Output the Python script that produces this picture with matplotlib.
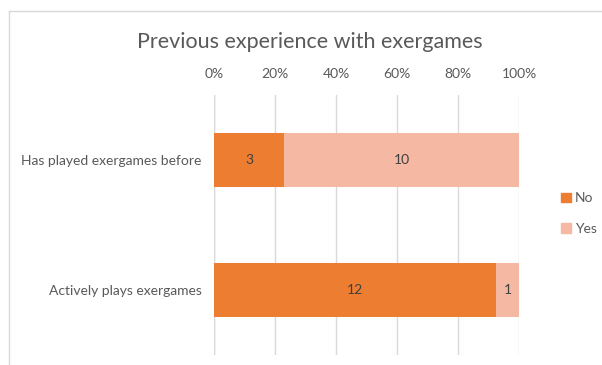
import numpy as np
import matplotlib.pyplot as plt
from matplotlib.patches import Patch

questions = ['Has played exergames before', 'Actively plays exergames']
no_counts = [3, 12]
yes_counts = [10, 1]
ticks = [0, 20, 40, 60, 80, 100]

no_color = '#ED7D31'
yes_color = '#F4B8A3'
text_color = '#595959'

plt.rcParams['font.family'] = ['Lato', 'DejaVu Sans']

no = np.array(no_counts, dtype=float)
yes = np.array(yes_counts, dtype=float)
total = no + yes
no_pct = no / total * 100
yes_pct = yes / total * 100

fig = plt.figure(figsize=(6.02, 3.65), dpi=100)
ax = fig.add_axes([0.3555, 0.027, 0.507, 0.713])

y = np.arange(len(questions))
ax.barh(y, no_pct, height=0.41, color=no_color, zorder=3)
ax.barh(y, yes_pct, left=no_pct, height=0.41, color=yes_color, zorder=3)

for i in range(len(questions)):
    ax.text(no_pct[i] / 2, y[i], str(no_counts[i]), ha='center', va='center',
            fontsize=10, color='#404040', zorder=4)
    ax.text(no_pct[i] + yes_pct[i] / 2, y[i], str(yes_counts[i]), ha='center',
            va='center', fontsize=10, color='#404040', zorder=4)

ax.set_xlim(0, 100)
ax.set_ylim(len(questions) - 0.5, -0.5)
ax.set_xticks(ticks)
ax.set_xticklabels([f'{t}%' for t in ticks])
ax.set_yticks(y)
ax.set_yticklabels(questions)
ax.xaxis.tick_top()
ax.tick_params(axis='x', length=0, pad=11, labelsize=10, labelcolor=text_color)
ax.tick_params(axis='y', length=0, pad=9, labelsize=10, labelcolor=text_color)
ax.grid(axis='x', color='#D9D9D9', linewidth=1, zorder=0)
ax.axvline(0, color='#D9D9D9', linewidth=1, zorder=1)
for s in ax.spines.values():
    s.set_visible(False)

fig.text(0.515, 0.885, 'Previous experience with exergames', ha='center',
         va='center', fontsize=15.5, color=text_color)

handles = [Patch(color=no_color, label='No'), Patch(color=yes_color, label='Yes')]
fig.legend(handles=handles, loc='center left', bbox_to_anchor=(0.92, 0.415),
           frameon=False, fontsize=10, labelcolor=text_color,
           handlelength=0.7, handleheight=0.7, handletextpad=0.3,
           labelspacing=1.3, borderpad=0)

# thin outline of the chart area along the top and left
fig.add_artist(plt.Line2D([8.5 / 602, 1], [1 - 11 / 365, 1 - 11 / 365],
                          transform=fig.transFigure, color='#D9D9D9', linewidth=1))
fig.add_artist(plt.Line2D([8.5 / 602, 8.5 / 602], [0, 1 - 11 / 365],
                          transform=fig.transFigure, color='#D9D9D9', linewidth=1))

fig.savefig('out.png', dpi=100)
